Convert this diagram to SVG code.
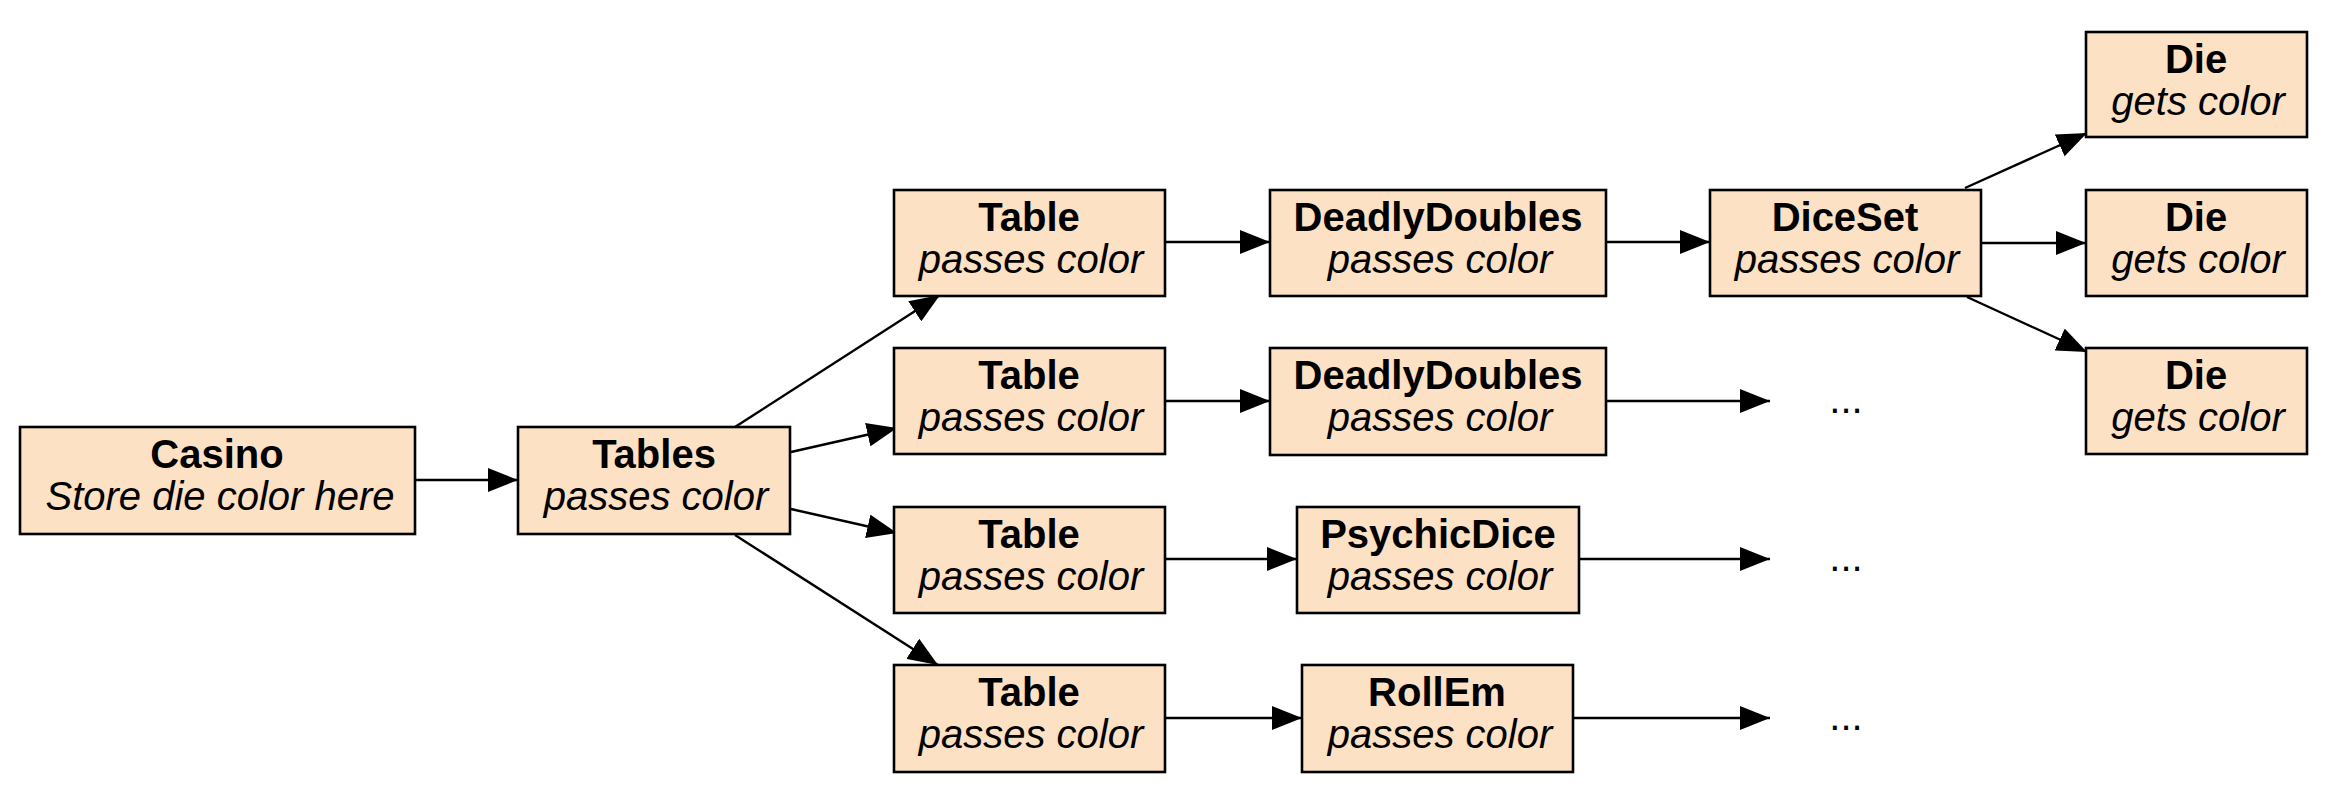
<svg xmlns="http://www.w3.org/2000/svg" width="2328" height="800" viewBox="0 0 2328 800">
<style>
.box{fill:#fde1c4;stroke:#000;stroke-width:2.6}
.t{font-family:"Liberation Sans",Arial,Helvetica,sans-serif;font-size:40px;fill:#000;text-anchor:middle}
.b{font-weight:bold}
.i{font-style:italic}
.e{stroke:#000;stroke-width:2.4;fill:none;marker-end:url(#ah)}
</style>
<defs>
<marker id="ah" viewBox="0 0 30 24" refX="30" refY="12" markerWidth="30" markerHeight="24" markerUnits="userSpaceOnUse" orient="auto">
<path d="M0,0 L30,12 L0,24 Z" fill="#000"/>
</marker>
</defs>
<rect width="2328" height="800" fill="#fff"/>
<g id="connectors">
<line class="e" x1="415" y1="480" x2="518" y2="480"/>
<line class="e" x1="735" y1="427" x2="940" y2="295"/>
<line class="e" x1="791" y1="452" x2="897" y2="428"/>
<line class="e" x1="791" y1="509" x2="897" y2="533"/>
<line class="e" x1="735" y1="535" x2="938" y2="665"/>
<line class="e" x1="1165" y1="242" x2="1270" y2="242"/>
<line class="e" x1="1165" y1="401" x2="1270" y2="401"/>
<line class="e" x1="1165" y1="559" x2="1297" y2="559"/>
<line class="e" x1="1165" y1="718" x2="1302" y2="718"/>
<line class="e" x1="1606" y1="242" x2="1710" y2="242"/>
<line class="e" x1="1606" y1="401" x2="1770" y2="401"/>
<line class="e" x1="1579" y1="559" x2="1770" y2="559"/>
<line class="e" x1="1573" y1="718" x2="1770" y2="718"/>
<line class="e" x1="1965" y1="188" x2="2087" y2="133"/>
<line class="e" x1="1981" y1="243" x2="2086" y2="243"/>
<line class="e" x1="1967" y1="297" x2="2087" y2="352"/>
</g>
<g id="casino"><rect class="box" x="20" y="427" width="395" height="107"/><text class="t b" x="217" y="468">Casino</text><text class="t i" x="220" y="510">Store die color here</text></g>
<g id="tables"><rect class="box" x="518" y="427" width="272" height="107"/><text class="t b" x="654" y="468">Tables</text><text class="t i" x="656" y="510">passes color</text></g>
<g id="table1"><rect class="box" x="894" y="190" width="271" height="106"/><text class="t b" x="1029" y="231">Table</text><text class="t i" x="1031" y="273">passes color</text></g>
<g id="table2"><rect class="box" x="894" y="348" width="271" height="106"/><text class="t b" x="1029" y="389">Table</text><text class="t i" x="1031" y="431">passes color</text></g>
<g id="table3"><rect class="box" x="894" y="507" width="271" height="106"/><text class="t b" x="1029" y="548">Table</text><text class="t i" x="1031" y="590">passes color</text></g>
<g id="table4"><rect class="box" x="894" y="665" width="271" height="107"/><text class="t b" x="1029" y="706">Table</text><text class="t i" x="1031" y="748">passes color</text></g>
<g id="deadly1"><rect class="box" x="1270" y="190" width="336" height="106"/><text class="t b" x="1438" y="231">DeadlyDoubles</text><text class="t i" x="1440" y="273">passes color</text></g>
<g id="deadly2"><rect class="box" x="1270" y="348" width="336" height="107"/><text class="t b" x="1438" y="389">DeadlyDoubles</text><text class="t i" x="1440" y="431">passes color</text></g>
<g id="psychic"><rect class="box" x="1297" y="507" width="282" height="106"/><text class="t b" x="1438" y="548">PsychicDice</text><text class="t i" x="1440" y="590">passes color</text></g>
<g id="rollem"><rect class="box" x="1302" y="665" width="271" height="107"/><text class="t b" x="1437" y="706">RollEm</text><text class="t i" x="1440" y="748">passes color</text></g>
<g id="diceset"><rect class="box" x="1710" y="190" width="271" height="106"/><text class="t b" x="1845" y="231">DiceSet</text><text class="t i" x="1847" y="273">passes color</text></g>
<g id="die1"><rect class="box" x="2086" y="32" width="221" height="105"/><text class="t b" x="2196" y="73">Die</text><text class="t i" x="2198" y="115">gets color</text></g>
<g id="die2"><rect class="box" x="2086" y="190" width="221" height="106"/><text class="t b" x="2196" y="231">Die</text><text class="t i" x="2198" y="273">gets color</text></g>
<g id="die3"><rect class="box" x="2086" y="348" width="221" height="106"/><text class="t b" x="2196" y="389">Die</text><text class="t i" x="2198" y="431">gets color</text></g>
<g id="more1"><text class="t" x="1846" y="413">...</text></g>
<g id="more2"><text class="t" x="1846" y="571">...</text></g>
<g id="more3"><text class="t" x="1846" y="730">...</text></g>
</svg>
